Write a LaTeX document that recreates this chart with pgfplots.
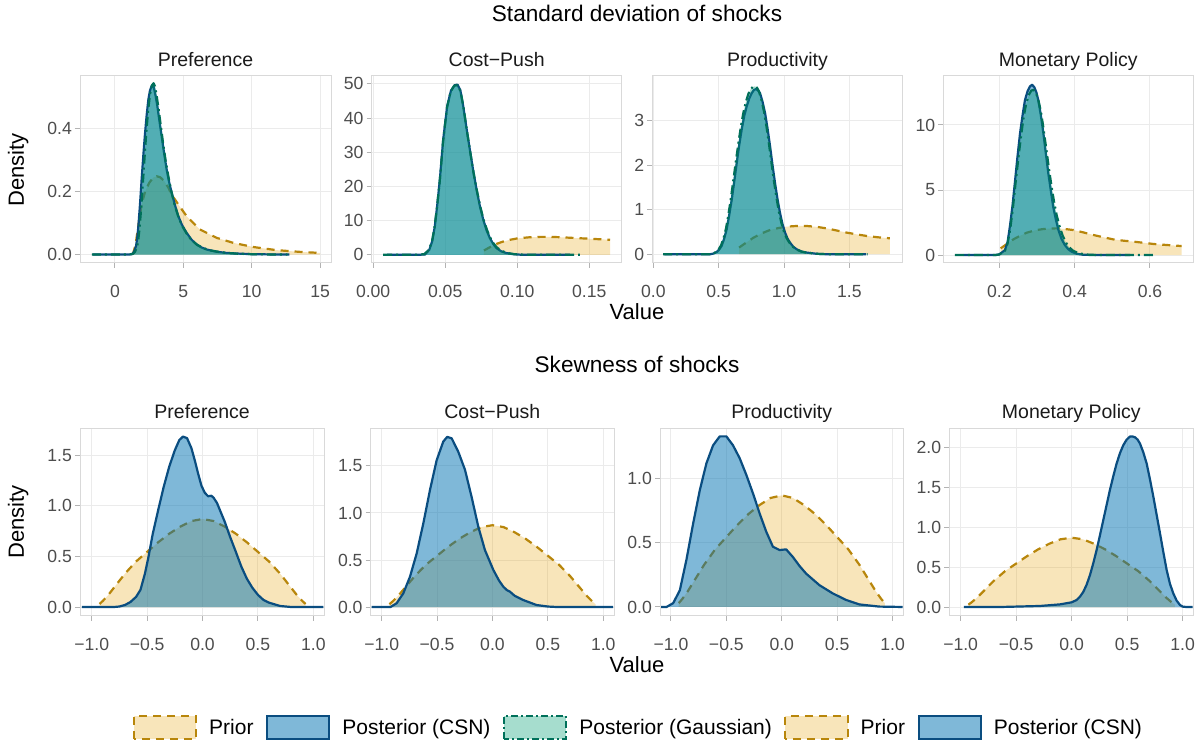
\documentclass[border=0pt]{standalone}
\usepackage{pgfplots}
\pgfplotsset{compat=1.18}
\usepackage{pgfplotstable}
\usepackage{fontspec}
\setmainfont{Liberation Sans}
\newcommand{\fs}[1]{\fontsize{#1}{#1}\selectfont}

\definecolor{priorline}{HTML}{B8860B}
\definecolor{priorfill}{HTML}{E69F00}
\definecolor{csnline}{HTML}{0A4D80}
\definecolor{csnfill}{HTML}{0072B2}
\definecolor{gline}{HTML}{00705A}
\definecolor{gfill}{HTML}{009E73}
\definecolor{gridcol}{HTML}{EBEBEB}
\definecolor{bordercol}{HTML}{D9D9D9}
\definecolor{tickcol}{HTML}{B3B3B3}
\definecolor{labcol}{HTML}{4D4D4D}
\definecolor{titcol}{HTML}{1A1A1A}

\pgfplotsset{
  panel/.style={
    scale only axis,
    axis line style={draw=bordercol, line width=1pt},
    xmajorgrids, ymajorgrids,
    major grid style={draw=gridcol, line width=1pt},
    tick align=outside,
    major tick length=5pt,
    tick style={draw=tickcol, line width=1pt},
    xtick pos=left, ytick pos=left,
    ticklabel style={font=\fs{17.6}, text=labcol, inner sep=0pt},
    xticklabel style={anchor=base, yshift=-30pt},
    yticklabel style={anchor=east, xshift=-3pt},
    title style={font=\fs{19.5}, text=titcol, at={(0.5,1)}, anchor=base, yshift=3.6pt},
  },
  priorfillst/.style={draw=none, fill=priorfill, fill opacity=0.27},
  priorlinest/.style={draw=priorline, line width=2.2pt, dash pattern=on 8pt off 6pt, line join=round},
  csnfillst/.style={draw=none, fill=csnfill, fill opacity=0.5},
  csnlinest/.style={draw=csnline, line width=2.2pt, line join=round},
  gfillst/.style={draw=none, fill=gfill, fill opacity=0.35},
  glinest/.style={draw=gline, line width=2.2pt, dash pattern=on 9pt off 4pt on 2pt off 4pt, line join=round},
}

\newcommand{\priorplot}[1]{\addplot[priorfillst] table {#1} \closedcycle; \addplot[priorlinest] table {#1};}
\newcommand{\csnplot}[1]{\addplot[csnfillst] table {#1} \closedcycle; \addplot[csnlinest] table {#1};}
\newcommand{\gplot}[1]{\addplot[gfillst] table {#1} \closedcycle; \addplot[glinest] table {#1};}

% ---------------- Top row: standard deviations ----------------
\pgfplotstableread{
x y
1.3 0.0
1.5 0.03
1.7 0.09
1.95 0.16
2.2 0.20
2.5 0.228
2.8 0.245
3.05 0.249
3.3 0.246
3.6 0.234
3.9 0.213
4.15 0.19
4.7 0.155
5.24 0.122
6.2 0.08
7.44 0.053
8.66 0.037
10.1 0.024
11.8 0.014
13.5 0.0085
15.0 0.005
}\TpriorA
\pgfplotstableread{
x y
-1.63 0
1.0 0
1.22 0.001
1.34 0.005
1.45 0.015
1.54 0.027
1.62 0.05
1.71 0.09
1.83 0.16
1.95 0.24
2.08 0.32
2.2 0.387
2.32 0.445
2.44 0.493
2.56 0.522
2.68 0.536
2.77 0.538
2.85 0.53
2.97 0.505
3.1 0.472
3.25 0.425
3.41 0.377
3.6 0.32
3.78 0.27
3.96 0.23
4.15 0.196
4.4 0.155
4.63 0.122
4.9 0.094
5.24 0.069
5.6 0.047
5.98 0.032
6.3 0.023
6.7 0.016
7.4 0.009
8.17 0.005
9.0 0.003
10.1 0.001
11.5 0.0003
12.76 0
}\TcsnA
\pgfplotstableread{
x y
-1.7 0
1.0 0
1.3 0.002
1.45 0.008
1.6 0.022
1.7 0.045
1.8 0.085
1.92 0.15
2.05 0.235
2.18 0.32
2.3 0.395
2.43 0.46
2.56 0.51
2.7 0.538
2.82 0.545
2.93 0.535
3.05 0.505
3.2 0.46
3.35 0.41
3.5 0.36
3.7 0.3
3.9 0.25
4.1 0.205
4.35 0.16
4.6 0.125
4.9 0.092
5.25 0.066
5.6 0.046
6.0 0.031
6.5 0.02
7.0 0.013
7.8 0.007
8.8 0.003
10.0 0.001
11.5 0.0002
12.6 0
}\TgA

\pgfplotstableread{
x y
0.0769 1.27
0.080 2.0
0.0856 3.2
0.090 3.85
0.095 4.4
0.100 4.8
0.1088 5.15
0.116 5.25
0.1227 5.25
0.130 5.15
0.1366 5.0
0.1435 4.85
0.1505 4.7
0.1575 4.55
0.1644 4.4
}\TpriorB
\pgfplotstableread{
x y
0.0097 0
0.030 0
0.036 0.1
0.039 1.5
0.041 4.0
0.0428 8.3
0.0444 14.2
0.0463 22
0.0486 33.7
0.0514 43.5
0.054 48.0
0.0565 49.6
0.0585 49.8
0.0605 48.2
0.0625 43.5
0.0648 37.0
0.0671 30.8
0.0695 24.5
0.0718 19
0.0741 14.2
0.0764 10.3
0.0787 7.2
0.081 4.9
0.0833 3.2
0.0856 1.95
0.089 1.0
0.0926 0.5
0.097 0.2
0.102 0.05
0.11 0
0.1366 0
}\TcsnB
\pgfplotstableread{
x y
0.0069 0
0.030 0
0.0355 0.2
0.0385 1.4
0.0408 3.8
0.0425 7.8
0.0442 13.5
0.0462 21.5
0.0485 33
0.0512 43
0.0538 47.8
0.0563 49.5
0.0585 49.6
0.0607 47.8
0.0628 43
0.065 36.5
0.0673 30.3
0.0697 24
0.072 18.8
0.0743 14.2
0.0766 10.4
0.079 7.3
0.0813 5
0.0836 3.3
0.086 2.1
0.0895 1.1
0.093 0.55
0.098 0.2
0.104 0.05
0.112 0
0.1435 0
}\TgB

\pgfplotstableread{
x y
0.656 0.15
0.70 0.24
0.765 0.37
0.83 0.47
0.893 0.545
0.96 0.59
1.02 0.62
1.1 0.635
1.173 0.634
1.25 0.615
1.327 0.58
1.40 0.535
1.48 0.485
1.56 0.445
1.633 0.41
1.72 0.38
1.81 0.358
}\TpriorC
\pgfplotstableread{
x y
0.084 0
0.434 0
0.46 0.015
0.485 0.05
0.505 0.11
0.523 0.19
0.542 0.35
0.561 0.56
0.58 0.87
0.6 1.23
0.619 1.63
0.638 2.05
0.657 2.45
0.676 2.8
0.695 3.1
0.714 3.32
0.734 3.5
0.753 3.62
0.77 3.69
0.786 3.71
0.80 3.68
0.816 3.62
0.835 3.43
0.855 3.17
0.874 2.82
0.893 2.43
0.912 2.0
0.931 1.6
0.95 1.24
0.969 0.93
0.988 0.68
1.008 0.485
1.027 0.35
1.046 0.26
1.07 0.17
1.097 0.11
1.135 0.06
1.173 0.037
1.25 0.01
1.327 0
1.628 0
}\TcsnC
\pgfplotstableread{
x y
0.075 0
0.43 0
0.455 0.015
0.48 0.05
0.5 0.11
0.518 0.2
0.537 0.36
0.556 0.58
0.575 0.9
0.594 1.27
0.613 1.68
0.632 2.1
0.651 2.5
0.67 2.87
0.689 3.18
0.708 3.42
0.727 3.6
0.746 3.71
0.762 3.76
0.778 3.77
0.793 3.74
0.808 3.66
0.827 3.47
0.847 3.2
0.866 2.86
0.885 2.47
0.904 2.05
0.923 1.64
0.942 1.27
0.961 0.95
0.98 0.7
1.0 0.5
1.02 0.36
1.04 0.265
1.065 0.175
1.09 0.115
1.13 0.062
1.17 0.037
1.25 0.01
1.33 0
1.64 0
}\TgC

\pgfplotstableread{
x y
0.2035 0.51
0.22 0.85
0.237 1.2
0.255 1.48
0.273 1.72
0.295 1.9
0.317 2.0
0.335 2.04
0.352 2.05
0.375 2.0
0.397 1.92
0.423 1.74
0.45 1.54
0.477 1.36
0.503 1.2
0.53 1.1
0.556 1.03
0.583 0.94
0.609 0.85
0.645 0.77
0.684 0.69
}\TpriorD
\pgfplotstableread{
x y
0.106 0
0.19 0
0.2 0.05
0.215 0.38
0.222 1.0
0.228 2.18
0.235 3.8
0.242 5.77
0.248 7.5
0.255 9.36
0.262 10.8
0.268 11.9
0.275 12.6
0.281 12.95
0.287 13.1
0.293 12.9
0.2985 12.5
0.3035 11.9
0.31 10.8
0.317 9.36
0.3235 7.8
0.33 6.3
0.337 4.9
0.343 3.72
0.35 2.75
0.357 1.92
0.365 1.25
0.374 0.77
0.383 0.45
0.392 0.26
0.405 0.1
0.423 0.02
0.45 0
0.547 0
}\TcsnD
\pgfplotstableread{
x y
0.082 0
0.19 0
0.2 0.04
0.215 0.33
0.222 0.9
0.229 2.0
0.236 3.6
0.243 5.5
0.25 7.3
0.257 9.0
0.264 10.5
0.271 11.6
0.278 12.3
0.285 12.65
0.291 12.7
0.297 12.5
0.303 12.0
0.31 11.1
0.317 9.8
0.324 8.3
0.331 6.8
0.338 5.4
0.345 4.15
0.352 3.1
0.36 2.2
0.368 1.5
0.377 0.95
0.386 0.58
0.396 0.33
0.41 0.14
0.43 0.04
0.46 0
0.61 0
}\TgD

% ---------------- Bottom row: skewness ----------------
\pgfplotstableread{
x y
-0.93 0.03
-0.9 0.06
-0.85 0.12
-0.8 0.19
-0.75 0.26
-0.7 0.33
-0.6 0.45
-0.5 0.545
-0.4 0.64
-0.3 0.725
-0.2 0.795
-0.1 0.85
0 0.87
0.1 0.85
0.2 0.795
0.3 0.725
0.4 0.64
0.5 0.545
0.6 0.45
0.7 0.33
0.75 0.26
0.8 0.19
0.85 0.12
0.9 0.06
0.93 0.03
}\Bprior
\pgfplotstableread{
x y
-1.09 0
-0.8 0
-0.75 0.005
-0.7 0.02
-0.65 0.05
-0.6 0.1
-0.56 0.17
-0.52 0.33
-0.487 0.5
-0.45 0.72
-0.4 0.96
-0.35 1.19
-0.3 1.39
-0.25 1.55
-0.21 1.65
-0.177 1.685
-0.14 1.67
-0.1 1.57
-0.07 1.45
-0.04 1.32
-0.01 1.2
0.02 1.13
0.05 1.095
0.08 1.10
0.1 1.08
0.13 1.03
0.16 0.95
0.2 0.844
0.25 0.69
0.3 0.547
0.35 0.40
0.4 0.28
0.45 0.19
0.5 0.12
0.55 0.07
0.6 0.043
0.7 0.01
0.8 0
1.09 0
}\BcsnA
\pgfplotstableread{
x y
-1.09 0
-0.92 0
-0.865 0.04
-0.805 0.145
-0.745 0.32
-0.684 0.57
-0.624 0.89
-0.564 1.245
-0.504 1.56
-0.444 1.76
-0.408 1.81
-0.368 1.794
-0.308 1.65
-0.248 1.46
-0.188 1.17
-0.128 0.855
-0.068 0.606
0.008 0.394
0.06 0.28
0.098 0.216
0.13 0.18
0.158 0.163
0.2 0.12
0.278 0.074
0.398 0.021
0.5 0.005
0.58 0
1.09 0
}\BcsnB
\pgfplotstableread{
x y
-1.09 0
-1.04 0
-0.98 0.03
-0.92 0.13
-0.86 0.37
-0.80 0.65
-0.74 0.91
-0.68 1.12
-0.62 1.26
-0.56 1.33
-0.50 1.33
-0.44 1.26
-0.38 1.16
-0.32 1.03
-0.26 0.886
-0.20 0.73
-0.14 0.587
-0.08 0.47
-0.02 0.444
0.04 0.449
0.10 0.39
0.16 0.32
0.22 0.26
0.34 0.17
0.46 0.106
0.58 0.055
0.70 0.02
0.88 0.003
1.09 0
}\BcsnC
\pgfplotstableread{
x y
-0.97 0
-0.646 0
-0.285 0.013
-0.105 0.033
0 0.059
0.045 0.088
0.075 0.13
0.105 0.19
0.135 0.28
0.165 0.40
0.195 0.55
0.225 0.715
0.255 0.90
0.285 1.09
0.315 1.28
0.345 1.47
0.375 1.64
0.405 1.80
0.435 1.93
0.465 2.03
0.495 2.10
0.526 2.14
0.55 2.14
0.571 2.13
0.595 2.10
0.616 2.05
0.646 1.94
0.676 1.80
0.706 1.60
0.736 1.385
0.766 1.155
0.796 0.925
0.826 0.69
0.856 0.464
0.886 0.29
0.916 0.17
0.946 0.08
0.976 0.025
1.0 0.005
1.036 0
1.09 0
}\BcsnD

\begin{document}
\begin{tikzpicture}
\fill[white] (0pt,0pt) rectangle (1203pt,745pt);
\useasboundingbox (0pt,0pt) rectangle (1203pt,745pt);

% row titles and axis titles
\node[font=\fs{22.6}, anchor=base] at (637pt,723pt) {Standard deviation of shocks};
\node[font=\fs{22.6}, anchor=base] at (637pt,372pt) {Skewness of shocks};
\node[font=\fs{22}, anchor=base] at (637pt,425pt) {Value};
\node[font=\fs{22}, anchor=base] at (637pt,72pt) {Value};
\node[font=\fs{22}, rotate=90] at (18.3pt,575pt) {Density};
\node[font=\fs{22}, rotate=90] at (18.3pt,223.3pt) {Density};

% ---- top row ----
\begin{axis}[panel, at={(80pt,482.3pt)}, anchor=south west, width=251pt, height=187pt,
  xmin=-2.56, xmax=15.8, ymin=-0.026, ymax=0.569,
  xtick={0,5,10,15}, xticklabels={0,5,10,15},
  ytick={0,0.2,0.4}, yticklabels={0.0,0.2,0.4},
  title={Preference}]
\priorplot{\TpriorA}
\csnplot{\TcsnA}
\gplot{\TgA}
\end{axis}

\begin{axis}[panel, at={(371.7pt,482.3pt)}, anchor=south west, width=250pt, height=187pt,
  xmin=-0.001, xmax=0.1725, ymin=-2.3, ymax=52.4,
  xtick={0,0.05,0.10,0.15}, xticklabels={0.00,0.05,0.10,0.15},
  ytick={0,10,20,30,40,50}, yticklabels={0,10,20,30,40,50},
  title={Cost−Push}]
\priorplot{\TpriorB}
\csnplot{\TcsnB}
\gplot{\TgB}
\end{axis}

\begin{axis}[panel, at={(652.3pt,482.3pt)}, anchor=south west, width=250.4pt, height=187pt,
  xmin=-0.008, xmax=1.908, ymin=-0.19, ymax=4.01,
  xtick={0,0.5,1,1.5}, xticklabels={0.0,0.5,1.0,1.5},
  ytick={0,1,2,3}, yticklabels={0,1,2,3},
  title={Productivity}]
\priorplot{\TpriorC}
\csnplot{\TcsnC}
\gplot{\TgC}
\end{axis}

\begin{axis}[panel, at={(943.3pt,482.3pt)}, anchor=south west, width=250pt, height=187pt,
  xmin=0.0513, xmax=0.715, ymin=-0.59, ymax=13.79,
  xtick={0.2,0.4,0.6}, xticklabels={0.2,0.4,0.6},
  ytick={0,5,10}, yticklabels={0,5,10},
  title={Monetary Policy}]
\priorplot{\TpriorD}
\csnplot{\TcsnD}
\gplot{\TgD}
\end{axis}

% ---- bottom row ----
\begin{axis}[panel, at={(80pt,129.3pt)}, anchor=south west, width=244.3pt, height=187.4pt,
  xmin=-1.106, xmax=1.099, ymin=-0.086, ymax=1.767,
  xtick={-1,-0.5,0,0.5,1}, xticklabels={−1.0,−0.5,0.0,0.5,1.0},
  ytick={0,0.5,1,1.5}, yticklabels={0.0,0.5,1.0,1.5},
  title={Preference}]
\priorplot{\Bprior}
\csnplot{\BcsnA}
\end{axis}

\begin{axis}[panel, at={(370.7pt,129.3pt)}, anchor=south west, width=243.3pt, height=187.4pt,
  xmin=-1.099, xmax=1.097, ymin=-0.0925, ymax=1.901,
  xtick={-1,-0.5,0,0.5,1}, xticklabels={−1.0,−0.5,0.0,0.5,1.0},
  ytick={0,0.5,1,1.5}, yticklabels={0.0,0.5,1.0,1.5},
  title={Cost−Push}]
\priorplot{\Bprior}
\csnplot{\BcsnB}
\end{axis}

\begin{axis}[panel, at={(660pt,129.3pt)}, anchor=south west, width=243.3pt, height=187.4pt,
  xmin=-1.099, xmax=1.097, ymin=-0.068, ymax=1.393,
  xtick={-1,-0.5,0,0.5,1}, xticklabels={−1.0,−0.5,0.0,0.5,1.0},
  ytick={0,0.5,1}, yticklabels={0.0,0.5,1.0},
  title={Productivity}]
\priorplot{\Bprior}
\csnplot{\BcsnC}
\end{axis}

\begin{axis}[panel, at={(949.3pt,129.3pt)}, anchor=south west, width=244pt, height=187.4pt,
  xmin=-1.102, xmax=1.096, ymin=-0.109, ymax=2.243,
  xtick={-1,-0.5,0,0.5,1}, xticklabels={−1.0,−0.5,0.0,0.5,1.0},
  ytick={0,0.5,1,1.5,2}, yticklabels={0.0,0.5,1.0,1.5,2.0},
  title={Monetary Policy}]
\priorplot{\Bprior}
\csnplot{\BcsnD}
\end{axis}

% ---- legend ----
\begin{axis}[hide axis, scale only axis, width=10pt, height=2pt,
  xmin=0, xmax=1, ymin=0, ymax=1,
  at={(132.7pt,17.5pt)}, anchor=west,
  legend columns=5,
  legend cell align=left,
  legend style={at={(0,0.5)}, anchor=west, draw=none, fill=none, inner sep=0pt,
    font=\fs{21}, nodes={inner sep=0pt},
    /tikz/every odd column/.append style={column sep=12pt},
    /tikz/every even column/.append style={column sep=12.5pt},
    /tikz/column 6/.append style={column sep=19pt}}]
\addlegendimage{legend image code/.code={\draw[fill=priorfill, fill opacity=0.27, draw=priorline, line width=2pt, dash pattern=on 8pt off 6pt] (0pt,-11.3pt) rectangle (62.3pt,11.3pt);}}
\addlegendentry{Prior}
\addlegendimage{legend image code/.code={\draw[fill=csnfill, fill opacity=0.5, draw=csnline, line width=2pt] (0pt,-11.3pt) rectangle (62.3pt,11.3pt);}}
\addlegendentry{Posterior (CSN)}
\addlegendimage{legend image code/.code={\draw[fill=gfill, fill opacity=0.35, draw=gline, line width=2pt, dash pattern=on 7pt off 3pt on 2pt off 3pt] (0pt,-11.3pt) rectangle (62.3pt,11.3pt);}}
\addlegendentry{Posterior (Gaussian)}
\addlegendimage{legend image code/.code={\draw[fill=priorfill, fill opacity=0.27, draw=priorline, line width=2pt, dash pattern=on 8pt off 6pt] (0pt,-11.3pt) rectangle (62.3pt,11.3pt);}}
\addlegendentry{Prior}
\addlegendimage{legend image code/.code={\draw[fill=csnfill, fill opacity=0.5, draw=csnline, line width=2pt] (0pt,-11.3pt) rectangle (62.3pt,11.3pt);}}
\addlegendentry{Posterior (CSN)}
\end{axis}
\end{tikzpicture}
\end{document}
